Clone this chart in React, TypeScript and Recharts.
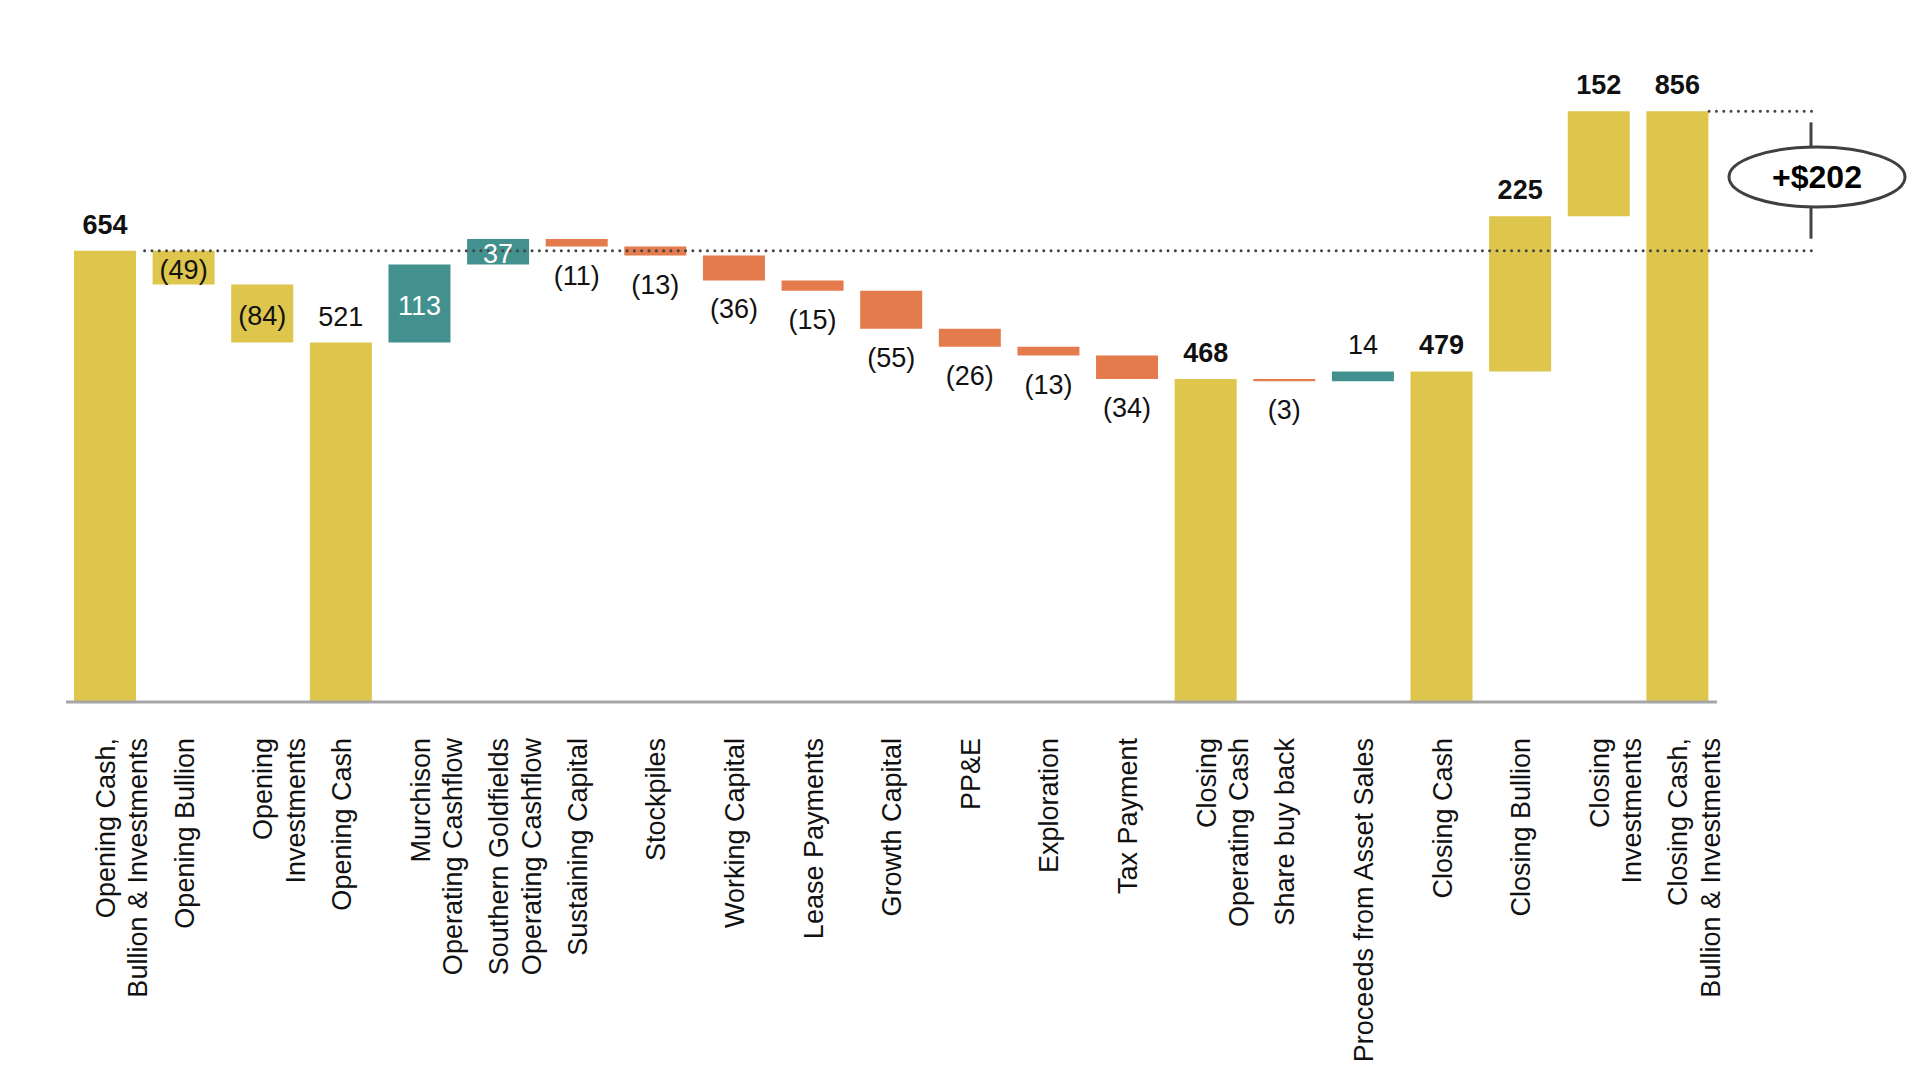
import React from "react";
import {
  BarChart,
  Bar,
  XAxis,
  YAxis,
  Cell,
  LabelList,
  ReferenceLine,
  ReferenceArea,
} from "recharts";

// Cash, bullion & investments bridge (A$M)
const categories = [
  "Opening Cash,\nBullion & Investments",
  "Opening Bullion",
  "Opening\nInvestments",
  "Opening Cash",
  "Murchison\nOperating Cashflow",
  "Southern Goldfields\nOperating Cashflow",
  "Sustaining Capital",
  "Stockpiles",
  "Working Capital",
  "Lease Payments",
  "Growth Capital",
  "PP&E",
  "Exploration",
  "Tax Payment",
  "Closing\nOperating Cash",
  "Share buy back",
  "Proceeds from Asset Sales",
  "Closing Cash",
  "Closing Bullion",
  "Closing\nInvestments",
  "Closing Cash,\nBullion & Investments",
];

// totals are absolute levels, everything else is a movement
const values = [654, -49, -84, 521, 113, 37, -11, -13, -36, -15, -55, -26, -13, -34, 468, -3, 14, 479, 225, 152, 856];

const kinds = [
  "total", "holding", "holding", "total",
  "flow", "flow", "flow", "flow", "flow", "flow", "flow", "flow", "flow", "flow",
  "total", "flow", "flow", "total",
  "holding", "holding", "total",
];

const boldLabels = [
  "Opening Cash,\nBullion & Investments",
  "Closing\nOperating Cash",
  "Closing Cash",
  "Closing Bullion",
  "Closing\nInvestments",
  "Closing Cash,\nBullion & Investments",
];

const openingLevel = 654;
const closingLevel = 856;
const changeLabel = "+$202";

const GOLD = "#DEC54B";
const TEAL = "#43918F";
const ORANGE = "#E37B4D";
const FONT = "'Liberation Sans', Arial, Helvetica, sans-serif";

let running = 0;
const rows = categories.map((name, i) => {
  const v = values[i];
  const kind = kinds[i];
  let base = 0;
  let size = 0;
  if (kind === "total") {
    size = v;
    running = v;
  } else if (v >= 0) {
    base = running;
    size = v;
    running += v;
  } else {
    running += v;
    base = running;
    size = -v;
  }
  return { name, base, size, signed: v, kind };
});

const barColor = (r: { kind: string; signed: number }) => {
  if (r.kind !== "flow") return GOLD;
  return r.signed >= 0 ? TEAL : ORANGE;
};

const fmt = (v: number) => (v < 0 ? `(${Math.abs(v)})` : `${v}`);

const ValueLabel = (props: any) => {
  const { x, y, width, height, index } = props;
  const r = rows[index];
  if (!r) return null;
  const cx = x + width / 2;
  const h = Math.abs(height);
  const top = Math.min(y, y + height);
  const bottom = top + h;
  const bold = boldLabels.includes(r.name);
  let ty = top - 17;
  let fill = "#111";
  let baseline: any = "auto";
  if (r.signed < 0 && r.kind === "holding") {
    ty = top + h / 2 + 2;
    baseline = "central";
  } else if (r.signed < 0) {
    ty = bottom + 38;
  } else if (r.kind === "flow" && h >= 20) {
    ty = top + h / 2 + 2;
    baseline = "central";
    fill = "#fff";
  }
  return (
    <text
      x={cx}
      y={ty}
      textAnchor="middle"
      dominantBaseline={baseline}
      fontSize={27}
      fontWeight={bold ? 700 : 400}
      fill={fill}
      fontFamily={FONT}
    >
      {fmt(r.signed)}
    </text>
  );
};

const AxisTick = (props: any) => {
  const { x, y, payload } = props;
  const lines = String(payload.value).split("\n");
  return (
    <g transform={`translate(${x},${y + 36}) rotate(-90)`}>
      <text textAnchor="end" fontSize={27} fill="#111" fontFamily={FONT}>
        {lines.map((l, i) => (
          <tspan key={i} x={0} dy={i === 0 ? "0.36em" : "1.2em"}>
            {l}
          </tspan>
        ))}
      </text>
    </g>
  );
};

// dotted guide drawn from the reference line's own scaled coordinates
const dotted = (fromRight: boolean, startBands: number, endShift: number) => (p: any) => {
  const band = (p.x2 - p.x1) / categories.length;
  const start = fromRight ? p.x2 - band * startBands : p.x1 + band * startBands;
  return (
    <line
      x1={start}
      y1={p.y1}
      x2={p.x2 + endShift}
      y2={p.y2}
      stroke="#444"
      strokeWidth={3}
      strokeDasharray="0.01 7.3"
      strokeLinecap="round"
    />
  );
};

const ChangeBubble = (p: any) => {
  const right = p.x + p.width;
  const lx = right + 94;
  const ex = right + 100;
  const ey = p.y + p.height / 2 - 4;
  return (
    <g>
      <line x1={lx} y1={p.y + 11} x2={lx} y2={p.y + p.height - 12} stroke="#444" strokeWidth={3} />
      <ellipse cx={ex} cy={ey} rx={88} ry={30} fill="#fff" stroke="#404040" strokeWidth={3} />
      <text
        x={ex}
        y={ey}
        textAnchor="middle"
        dominantBaseline="central"
        fontSize={32}
        fontWeight={700}
        fill="#000"
        fontFamily={FONT}
      >
        {changeLabel}
      </text>
    </g>
  );
};

export default function App() {
  return (
    <div style={{ width: 1908, height: 1060, background: "#fff" }}>
      <BarChart
        width={1908}
        height={1060}
        data={rows}
        margin={{ top: 73, right: 199, left: 58, bottom: 0 }}
        barSize={62}
        style={{ fontFamily: FONT }}
      >
        <XAxis
          dataKey="name"
          interval={0}
          height={366}
          tickLine={false}
          tickSize={0}
          tickMargin={0}
          axisLine={{ stroke: "#A6A6A6", strokeWidth: 3 }}
          tick={<AxisTick />}
        />
        <YAxis hide domain={[0, 900]} allowDataOverflow />
        <Bar dataKey="base" stackId="w" fill="transparent" isAnimationActive={false} />
        <Bar dataKey="size" stackId="w" isAnimationActive={false}>
          {rows.map((r, i) => (
            <Cell key={`c-${i}`} fill={barColor(r)} />
          ))}
          <LabelList dataKey="signed" content={<ValueLabel />} />
        </Bar>
        <ReferenceArea y1={openingLevel} y2={closingLevel} shape={ChangeBubble} />
        <ReferenceLine y={openingLevel} shape={dotted(false, 1, 100)} />
        <ReferenceLine y={closingLevel} shape={dotted(true, 0.1, 98)} />
      </BarChart>
    </div>
  );
}
